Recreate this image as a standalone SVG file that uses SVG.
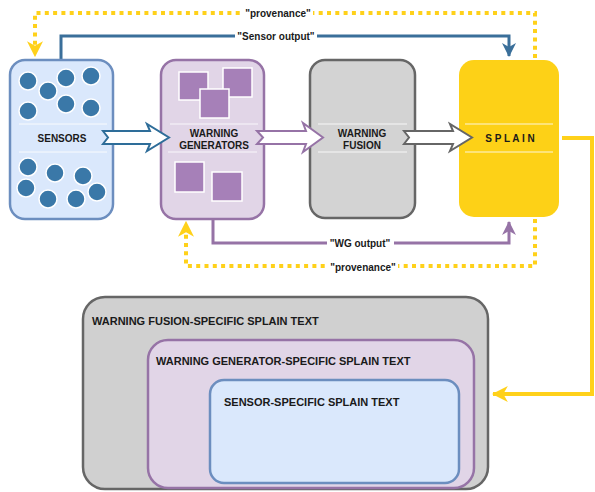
<svg xmlns="http://www.w3.org/2000/svg" width="595" height="492" viewBox="0 0 595 492">
<style>
text{font-family:"Liberation Sans",Arial,sans-serif;font-weight:bold;fill:#1a1a1a}
.lbl{font-size:10px;text-anchor:middle}
.big{font-size:11px}
.sep{stroke:#ffffff;stroke-width:1;opacity:0.85}
.dot{fill:#3a78a8;stroke:#ffffff;stroke-width:1.5}
.sq{fill:#a680b8;stroke:#ffffff;stroke-width:1.5}
.bg{fill:#ffffff}
</style>
<defs>
<marker id="mBlue" markerUnits="userSpaceOnUse" markerWidth="14" markerHeight="14" viewBox="0 0 14 14" refX="13" refY="7" orient="auto"><path d="M0,0 L14,7 L0,14 L4,7 Z" fill="#3a6f9a"/></marker>
<marker id="mPurple" markerUnits="userSpaceOnUse" markerWidth="14" markerHeight="14" viewBox="0 0 14 14" refX="13" refY="7" orient="auto"><path d="M0,0 L14,7 L0,14 L4,7 Z" fill="#9673a6"/></marker>
<marker id="mYellow" markerUnits="userSpaceOnUse" markerWidth="16" markerHeight="16" viewBox="0 0 14 14" refX="13" refY="7" orient="auto"><path d="M0,0 L14,7 L0,14 L4,7 Z" fill="#ffd11a"/></marker>
</defs>

<g id="connectors" fill="none">
  <path d="M535,58 L535,13 L35,13 L35,56" stroke="#ffd11a" stroke-width="4" stroke-dasharray="4 4.3" marker-end="url(#mYellow)"/>
  <rect class="bg" x="243" y="6" width="70" height="14"/>
  <text class="lbl" x="278" y="17">"provenance"</text>
  <path d="M61,60 L61,36 L509,36 L509,56" stroke="#3a6f9a" stroke-width="3" marker-end="url(#mBlue)"/>
  <rect class="bg" x="235" y="29" width="82" height="14"/>
  <text class="lbl" x="276" y="40">"Sensor output"</text>
  <path d="M213,219 L213,243 L509,243 L509,222" stroke="#9673a6" stroke-width="3" marker-end="url(#mPurple)"/>
  <rect class="bg" x="327" y="236" width="67" height="14"/>
  <text class="lbl" x="360" y="247">"WG output"</text>
  <path d="M535,219 L535,266 L186,266 L186,222" stroke="#ffd11a" stroke-width="4" stroke-dasharray="4 4.3" marker-end="url(#mYellow)"/>
  <rect class="bg" x="328" y="259" width="70" height="14"/>
  <text class="lbl" x="363" y="271">"provenance"</text>
  <path d="M562,138 L592,138 L592,394 L493,394" stroke="#ffd11a" stroke-width="4" marker-end="url(#mYellow)"/>
</g>

<g id="sensors">
  <rect x="10" y="60" width="103" height="159" rx="15" fill="#dae8fc" stroke="#6c8ebf" stroke-width="2.5"/>
  <circle class="dot" cx="28" cy="81" r="9"/>
  <circle class="dot" cx="48" cy="91" r="9"/>
  <circle class="dot" cx="66" cy="78" r="9"/>
  <circle class="dot" cx="91" cy="76" r="9"/>
  <circle class="dot" cx="28" cy="111" r="9"/>
  <circle class="dot" cx="66" cy="104" r="9"/>
  <circle class="dot" cx="91" cy="108" r="9"/>
  <circle class="dot" cx="28" cy="167" r="9"/>
  <circle class="dot" cx="55" cy="173" r="9"/>
  <circle class="dot" cx="83" cy="176" r="9"/>
  <circle class="dot" cx="26" cy="188" r="9"/>
  <circle class="dot" cx="48" cy="199" r="9"/>
  <circle class="dot" cx="76" cy="199" r="9"/>
  <circle class="dot" cx="97" cy="192" r="9"/>
  <line class="sep" x1="19" y1="124" x2="107" y2="124"/>
  <line class="sep" x1="19" y1="152" x2="107" y2="152"/>
  <text class="lbl" x="62" y="142">SENSORS</text>
</g>

<g id="warning-generators">
  <rect x="161" y="60" width="103" height="159" rx="15" fill="#e1d5e7" stroke="#9673a6" stroke-width="2.5"/>
  <rect class="sq" x="179" y="72" width="29" height="28"/>
  <rect class="sq" x="223" y="68" width="29" height="29"/>
  <rect class="sq" x="200" y="89" width="29" height="29"/>
  <rect class="sq" x="175" y="162" width="29" height="30"/>
  <rect class="sq" x="212" y="172" width="30" height="29"/>
  <line class="sep" x1="170" y1="124" x2="258" y2="124"/>
  <line class="sep" x1="168" y1="152" x2="257" y2="152"/>
  <text class="lbl" x="214" y="137">WARNING</text>
  <text class="lbl" x="214" y="149">GENERATORS</text>
</g>

<g id="warning-fusion">
  <rect x="310" y="60" width="105" height="158" rx="15" fill="#d3d3d3" stroke="#666666" stroke-width="2.5"/>
  <line class="sep" x1="318" y1="124" x2="407" y2="124"/>
  <line class="sep" x1="318" y1="152" x2="407" y2="152"/>
  <text class="lbl" x="362" y="137">WARNING</text>
  <text class="lbl" x="362" y="149">FUSION</text>
</g>

<g id="splain">
  <rect x="459" y="60" width="100" height="157" rx="15" fill="#fdd117"/>
  <line class="sep" x1="465" y1="124" x2="553" y2="124"/>
  <line class="sep" x1="465" y1="152" x2="553" y2="152"/>
  <text class="lbl" x="510" y="142">S P L A I N</text>
</g>

<g id="block-arrows" fill="#ffffff" stroke-width="2" stroke-linejoin="miter">
  <path d="M103,131 L150,131 L147,124 L169,137.5 L147,151 L150,144 L103,144 L108,137.5 Z" stroke="#2e6d99"/>
  <path d="M257,131 L306,131 L303,123 L323,137.5 L303,152 L306,144 L257,144 L263,137.5 Z" stroke="#9673a6"/>
  <path d="M404,131 L453,131 L450,124 L472,137.5 L450,151 L453,144 L404,144 L409,137.5 Z" stroke="#666666"/>
</g>

<g id="wf-text">
  <rect x="83" y="297" width="405" height="192" rx="22" fill="#d0d0d0" stroke="#666666" stroke-width="2.5"/>
  <text class="big" x="92" y="325">WARNING FUSION-SPECIFIC SPLAIN TEXT</text>
</g>
<g id="wg-text">
  <rect x="148" y="340" width="326" height="148" rx="20" fill="#e1d5e7" stroke="#9673a6" stroke-width="2.5"/>
  <text class="big" x="156" y="365">WARNING GENERATOR-SPECIFIC SPLAIN TEXT</text>
</g>
<g id="sensor-text">
  <rect x="210" y="380" width="249" height="103" rx="14" fill="#dae8fc" stroke="#6c8ebf" stroke-width="2.5"/>
  <text class="big" x="224" y="406">SENSOR-SPECIFIC SPLAIN TEXT</text>
</g>
</svg>
